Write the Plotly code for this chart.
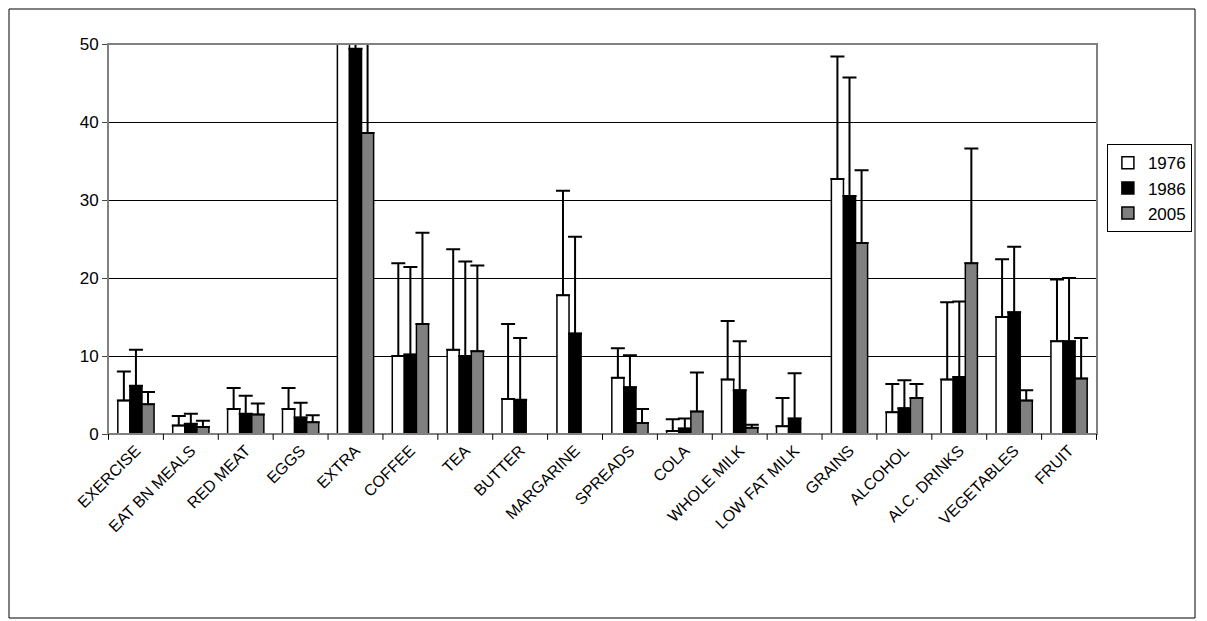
import plotly.graph_objects as go

categories = ["EXERCISE","EAT BN MEALS","RED MEAT","EGGS","EXTRA","COFFEE","TEA","BUTTER","MARGARINE","SPREADS","COLA","WHOLE MILK","LOW FAT MILK","GRAINS","ALCOHOL","ALC. DRINKS","VEGETABLES","FRUIT"]
v1976 = [4.3,1.1,3.2,3.2,56,10.0,10.8,4.5,17.8,7.2,0.4,7.0,1.0,32.7,2.8,7.0,15.0,11.9]
e1976 = [3.7,1.2,2.7,2.7,15,11.9,12.9,9.6,13.4,3.8,1.5,7.5,3.6,15.7,3.6,9.9,7.4,7.9]
v1986 = [6.2,1.3,2.6,2.1,49.4,10.2,10.0,4.4,12.9,6.0,0.7,5.6,2.0,30.5,3.3,7.3,15.6,11.9]
e1986 = [4.6,1.3,2.3,1.9,12,11.2,12.1,7.9,12.4,4.1,1.3,6.3,5.8,15.2,3.6,9.7,8.4,8.1]
v2005 = [3.8,0.9,2.5,1.5,38.6,14.1,10.6,0,0,1.4,2.9,0.8,0,24.5,4.6,21.9,4.3,7.1]
e2005 = [1.6,0.8,1.4,0.9,15,11.7,11.0,0,0,1.8,5.0,0.4,0,9.3,1.8,14.7,1.3,5.2]

fig = go.Figure()
for name, v, e, c in [("1976", v1976, e1976, "white"), ("1986", v1986, e1986, "black"), ("2005", v2005, e2005, "#808080")]:
    fig.add_trace(go.Bar(name=name, x=categories, y=v, marker=dict(color=c, line=dict(color="black", width=1.5)),
                         error_y=dict(type="data", array=e, symmetric=False, arrayminus=[0]*len(e), color="black", thickness=2, width=7)))

fig.update_layout(
    width=1199, height=613, barmode="group", bargap=0.34, bargroupgap=0,
    paper_bgcolor="white", plot_bgcolor="white",
    margin=dict(l=100, r=110, t=36, b=187),
    font=dict(family="Liberation Sans, Arial", size=17, color="black"),
    legend=dict(x=1.01, y=0.63, xanchor="left", yanchor="middle", bordercolor="black", borderwidth=1,
                font=dict(size=17), tracegroupgap=0, itemwidth=30),
    showlegend=True,
    xaxis=dict(tickangle=-45, showline=True, linecolor="black", linewidth=1, ticks="", mirror=False, tickfont=dict(size=16)),
    yaxis=dict(range=[0, 50], dtick=10, showgrid=True, gridcolor="black", gridwidth=1, showline=True, linecolor="black",
               ticks="outside", ticklen=5, tickfont=dict(size=17), zeroline=False),
    shapes=[
        dict(type="rect", xref="paper", yref="paper", x0=0, x1=1, y0=0, y1=1, line=dict(color="#808080", width=2)),
        dict(type="rect", xref="paper", yref="paper", x0=-99/989, x1=1+98/989, y0=-184/390, y1=1+35/390,
             line=dict(color="black", width=1)),
    ],
)
for i in range(len(categories) + 1):
    fig.add_shape(type="line", xref="x", yref="paper", x0=i - 0.5, x1=i - 0.5, y0=0, y1=-0.015, line=dict(color="black", width=1))
fig.write_html("out.html")
